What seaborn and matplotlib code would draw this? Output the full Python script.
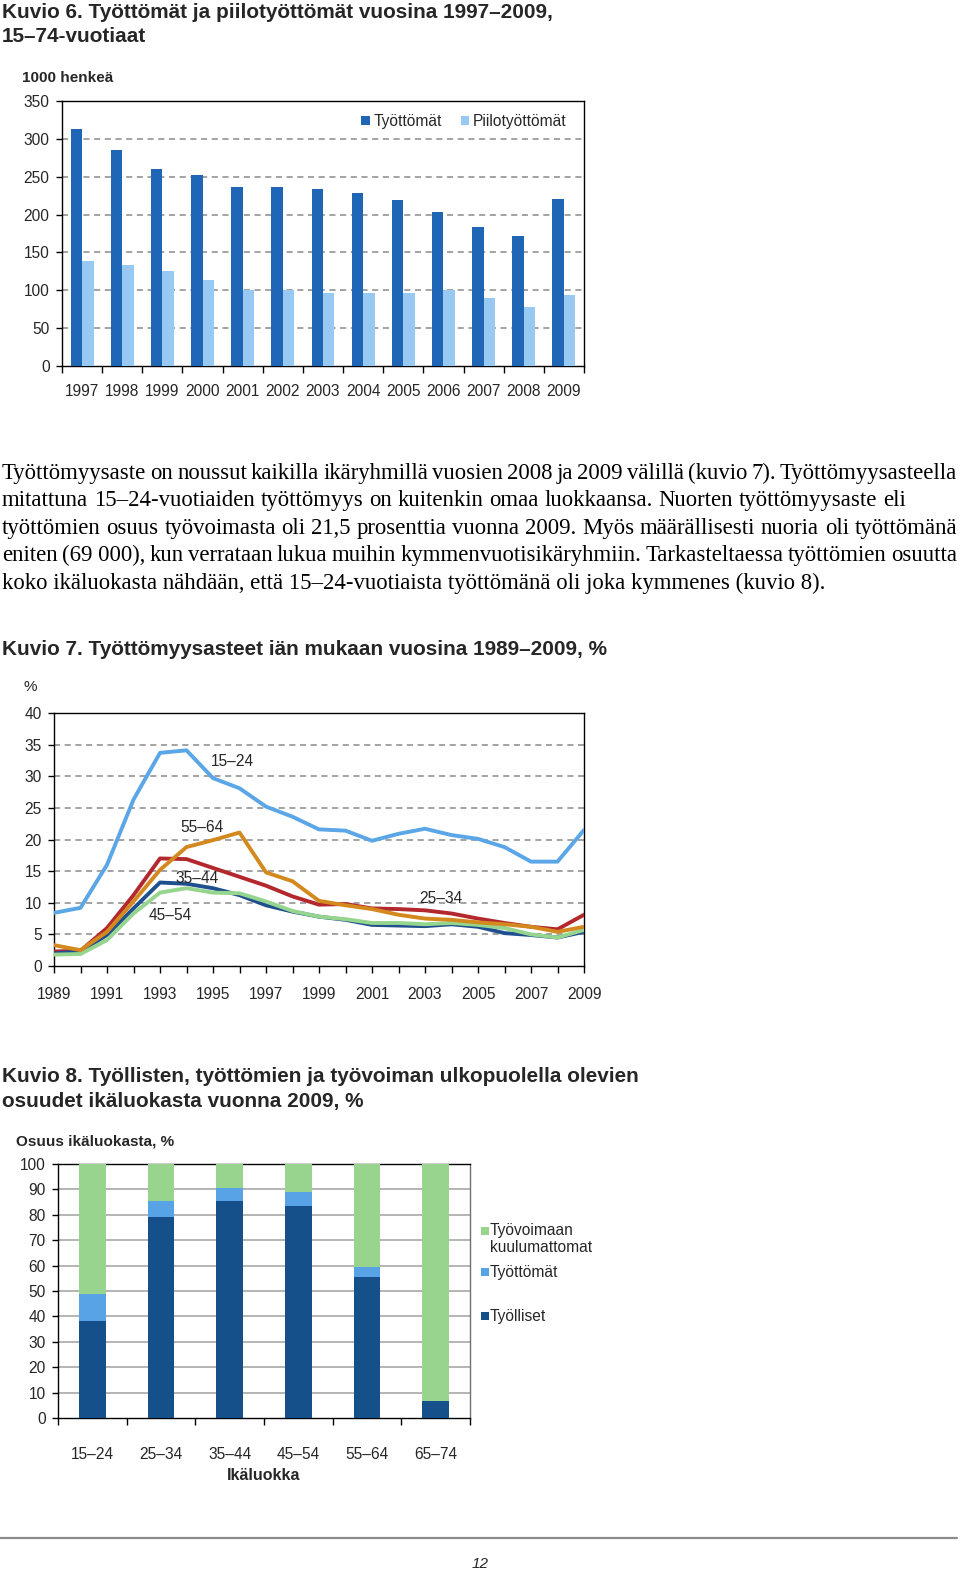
import numpy as np
import pandas as pd
import matplotlib
matplotlib.use("Agg")
import matplotlib.pyplot as plt
import seaborn as sns
from matplotlib.patches import Rectangle
from matplotlib.lines import Line2D

# ---------------- data ----------------
vuodet6 = [1997, 1998, 1999, 2000, 2001, 2002, 2003, 2004, 2005, 2006, 2007, 2008, 2009]
tyottomat6 = [313, 285, 260, 252, 237, 237, 234, 229, 219, 204, 183, 172, 221]
piilotyottomat6 = [139, 134, 126, 113, 101, 101, 96, 97, 97, 100, 90, 78, 94]
sarjat6 = ["Työttömät", "Piilotyöttömät"]

vuodet7 = list(range(1989, 2010))
aste_15_24 = [8.4, 9.2, 16.0, 26.3, 33.7, 34.1, 29.7, 28.1, 25.2, 23.6, 21.6, 21.4, 19.8, 20.9, 21.7, 20.7, 20.1, 18.8, 16.5, 16.5, 21.5]
aste_25_34 = [2.3, 2.4, 6.0, 11.2, 17.0, 16.9, 15.5, 14.1, 12.7, 11.0, 9.7, 9.8, 9.1, 9.0, 8.8, 8.3, 7.5, 6.8, 6.2, 5.8, 8.1]
aste_35_44 = [2.0, 2.3, 4.9, 9.1, 13.2, 13.0, 12.3, 11.2, 9.6, 8.6, 7.8, 7.3, 6.5, 6.4, 6.3, 6.6, 6.2, 5.2, 4.9, 4.5, 5.4]
aste_45_54 = [1.8, 1.9, 4.1, 8.3, 11.6, 12.3, 11.6, 11.5, 10.2, 8.7, 7.8, 7.4, 6.8, 6.8, 6.6, 6.8, 6.5, 6.0, 5.0, 4.5, 5.7]
aste_55_64 = [3.3, 2.5, 5.4, 10.2, 15.2, 18.8, 19.9, 21.1, 14.8, 13.4, 10.3, 9.6, 9.0, 8.1, 7.5, 7.3, 6.9, 6.6, 6.2, 5.4, 6.2]
ikaryhmat7 = ["15–24", "25–34", "35–44", "45–54", "55–64"]

ikaluokat8 = ["15–24", "25–34", "35–44", "45–54", "55–64", "65–74"]
tyolliset8 = [38.0, 79.0, 85.5, 83.5, 55.5, 6.5]
tyottomat8 = [11.0, 6.5, 5.0, 5.5, 4.0, 0.0]
ulkopuoliset8 = [51.0, 14.5, 9.5, 11.0, 40.5, 93.5]
sarjat8 = ["Työvoimaan\nkuulumattomat", "Työttömät", "Työlliset"]

kappale = [
    "Työttömyysaste on noussut kaikilla ikäryhmillä vuosien 2008 ja 2009 välillä (kuvio 7). Työttömyysasteella",
    "mitattuna 15–24-vuotiaiden työttömyys on kuitenkin omaa luokkaansa. Nuorten työttömyysaste eli",
    "työttömien osuus työvoimasta oli 21,5 prosenttia vuonna 2009. Myös määrällisesti nuoria oli työttömänä",
    "eniten (69\u00a0000), kun verrataan lukua muihin kymmenvuotisikäryhmiin. Tarkasteltaessa työttömien osuutta",
    "koko ikäluokasta nähdään, että 15–24-vuotiaista työttömänä oli joka kymmenes (kuvio 8).",
]

# ---------------- style ----------------
sns.set_theme(style="white")
plt.rcParams["font.family"] = ["Liberation Sans", "DejaVu Sans"]
plt.rcParams["axes.linewidth"] = 1.0
plt.rcParams["axes.edgecolor"] = "black"

W, H = 960, 1572
fig = plt.figure(figsize=(W / 100, H / 100), dpi=100)
fig.patch.set_facecolor("white")
renderer = fig.canvas.get_renderer()


def rect(x0, y0, x1, y1):
    return [x0 / W, 1 - y1 / H, (x1 - x0) / W, (y1 - y0) / H]


def ftext(x, y, s, **kw):
    return fig.text(x / W, 1 - y / H, s, **kw)


def twidth(s, **kw):
    t = fig.text(0, 0, s, **kw)
    w = t.get_window_extent(renderer).width
    t.remove()
    return w


def fit_size(s, width, **kw):
    return 10 * width / twidth(s, fontsize=10, **kw)


GRID = "#8a8a8a"
DASH = (0, (4, 3))
TICKFS = 11.2

# ---------------- titles ----------------
tkw = dict(fontweight="bold", family=["Liberation Sans", "DejaVu Sans"])
tsize = fit_size("Kuvio 6. Työttömät ja piilotyöttömät vuosina 1997–2009,", 551, **tkw)
ftext(2, 18, "Kuvio 6. Työttömät ja piilotyöttömät vuosina 1997–2009,", fontsize=tsize, va="baseline", **tkw)
ftext(2, 42, "15–74-vuotiaat", fontsize=tsize, va="baseline", **tkw)
ftext(2, 655, "Kuvio 7. Työttömyysasteet iän mukaan vuosina 1989–2009, %", fontsize=tsize, va="baseline", **tkw)
ftext(2, 1082, "Kuvio 8. Työllisten, työttömien ja työvoiman ulkopuolella olevien", fontsize=tsize, va="baseline", **tkw)
ftext(2, 1107, "osuudet ikäluokasta vuonna 2009, %", fontsize=tsize, va="baseline", **tkw)

# ---------------- paragraph (justified) ----------------
pkw = dict(family=["Liberation Serif", "DejaVu Serif"], color="black")
psize = fit_size(kappale[-1], 824, **pkw)
baselines = [479, 506, 534, 561, 589]
line_ends = [957, 906, 957, 957, None]
for i, line in enumerate(kappale):
    if line_ends[i] is None:
        ftext(2, baselines[i], line, fontsize=psize, va="baseline", ha="left", **pkw)
        continue
    words = line.split(" ")
    widths = [twidth(w, fontsize=psize, **pkw) for w in words]
    gap = (line_ends[i] - 2 - sum(widths)) / (len(words) - 1)
    x = 2
    for w, wd in zip(words, widths):
        ftext(x, baselines[i], w, fontsize=psize, va="baseline", ha="left", **pkw)
        x += wd + gap

# ---------------- chart 1 ----------------
ax1 = fig.add_axes(rect(62, 101, 584, 366))
df1 = pd.DataFrame({
    "Vuosi": vuodet6 + vuodet6,
    "Henkeä": tyottomat6 + piilotyottomat6,
    "Sarja": [sarjat6[0]] * len(vuodet6) + [sarjat6[1]] * len(vuodet6),
})
sns.barplot(data=df1, x="Vuosi", y="Henkeä", hue="Sarja", hue_order=sarjat6,
            palette=["#1f66b6", "#98c9f3"], width=0.57, gap=0, saturation=1,
            linewidth=0, edgecolor="none", ax=ax1, zorder=3)
ax1.set_xlim(-0.5, len(vuodet6) - 0.5)
ax1.set_ylim(0, 350)
ax1.set_yticks(range(0, 351, 50))
for v in range(50, 301, 50):
    ax1.axhline(v, color=GRID, lw=1.1, ls=DASH, zorder=1)
ax1.set_xlabel("")
ax1.set_ylabel("")
ax1.set_xticks(np.arange(-0.5, len(vuodet6), 1), minor=True)
ax1.tick_params(axis="x", which="major", length=0, pad=13, labelsize=TICKFS)
ax1.tick_params(axis="x", which="minor", length=5, width=1, direction="out", bottom=True, color="black")
ax1.tick_params(axis="y", which="major", length=4, width=1, direction="out", left=True, pad=5,
                labelsize=TICKFS, color="black")
for s in ax1.spines.values():
    s.set_color("black")
    s.set_linewidth(1)
h, l = ax1.get_legend_handles_labels()
ax1.legend(h, l, loc="upper right", bbox_to_anchor=(0.985, 0.985), ncol=2, frameon=False,
           handlelength=0.55, handleheight=0.55, handletextpad=0.25, columnspacing=1.2,
           fontsize=TICKFS, borderaxespad=0.2)
ftext(22, 82, "1000 henkeä", fontsize=11, fontweight="bold", va="baseline")

# ---------------- chart 2 ----------------
ax2 = fig.add_axes(rect(54, 713, 584, 966))
df2 = pd.DataFrame({
    "Vuosi": vuodet7 * 5,
    "Prosentti": aste_15_24 + aste_25_34 + aste_35_44 + aste_45_54 + aste_55_64,
    "Ikäryhmä": sum([[g] * len(vuodet7) for g in ikaryhmat7], []),
})
sns.lineplot(data=df2, x="Vuosi", y="Prosentti", hue="Ikäryhmä", hue_order=ikaryhmat7,
             palette=["#5aa6e6", "#b3282d", "#1f4f8f", "#95d58e", "#d4891f"],
             linewidth=2.8, legend=False, ax=ax2, zorder=3)
ax2.set_xlim(1989, 2009)
ax2.set_ylim(0, 40)
ax2.set_yticks(range(0, 41, 5))
for v in range(5, 36, 5):
    ax2.axhline(v, color=GRID, lw=1.1, ls=DASH, zorder=1)
ax2.set_xticks(vuodet7)
ax2.set_xticklabels([str(y) if (y - 1989) % 2 == 0 else "" for y in vuodet7])
ax2.set_xlabel("")
ax2.set_ylabel("")
ax2.tick_params(axis="x", which="major", length=5, width=1, direction="out", bottom=True, pad=10,
                labelsize=TICKFS, color="black")
ax2.tick_params(axis="y", which="major", length=4, width=1, direction="out", left=True, pad=5,
                labelsize=TICKFS, color="black")
for s in ax2.spines.values():
    s.set_color("black")
    s.set_linewidth(1)
lab_kw = dict(fontsize=TICKFS, ha="center", va="center", zorder=5)
ax2.text(1995.75, 32.3, "15–24", **lab_kw)
ax2.text(1994.6, 21.9, "55–64", **lab_kw)
ax2.text(1994.4, 13.9, "35–44", **lab_kw)
ax2.text(1993.4, 8.0, "45–54", **lab_kw)
ax2.text(2003.6, 10.6, "25–34", **lab_kw)
ftext(30, 691, "%", fontsize=11, va="baseline", ha="center")

# ---------------- chart 3 ----------------
ax3 = fig.add_axes(rect(58, 1164, 470, 1418))
df3 = pd.DataFrame({
    "Ikäluokka": ikaluokat8,
    "Työlliset": tyolliset8,
    "Työttömät": tyottomat8,
    "Ulkopuoliset": ulkopuoliset8,
})
df3["kum_tyottomat"] = df3["Työlliset"] + df3["Työttömät"]
df3["kum_kaikki"] = df3["kum_tyottomat"] + df3["Ulkopuoliset"]
cols8 = ["#98d48e", "#58a3e6", "#16508a"]
for col, c in zip(["kum_kaikki", "kum_tyottomat", "Työlliset"], cols8):
    sns.barplot(data=df3, x="Ikäluokka", y=col, color=c, width=0.39, saturation=1,
                linewidth=0, edgecolor="none", ax=ax3, zorder=3)
ax3.set_xlim(-0.5, len(ikaluokat8) - 0.5)
ax3.set_ylim(0, 100)
ax3.set_yticks(range(0, 101, 10))
for v in range(10, 91, 10):
    ax3.axhline(v, color="#a8a8a8", lw=1.2, zorder=1)
ax3.set_xlabel("")
ax3.set_ylabel("")
ax3.set_xticks(np.arange(-0.5, len(ikaluokat8), 1), minor=True)
ax3.tick_params(axis="x", which="major", length=0, pad=21, labelsize=TICKFS)
ax3.tick_params(axis="x", which="minor", length=5, width=1, direction="out", bottom=True, color="black")
ax3.tick_params(axis="y", which="major", length=4, width=1, direction="out", left=True, pad=5,
                labelsize=TICKFS, color="black")
for s in ax3.spines.values():
    s.set_color("black")
    s.set_linewidth(1)
ax3.spines["right"].set_color("#707070")
# legend (squares + labels)
leg_sq_y = [1231, 1272, 1316]
for yy, c in zip(leg_sq_y, cols8):
    fig.add_artist(Rectangle((481 / W, 1 - (yy + 4) / H), 8 / W, 8 / H, facecolor=c, edgecolor="none",
                             transform=fig.transFigure))
ftext(490, 1231, sarjat8[0].split("\n")[0], fontsize=TICKFS, va="center", ha="left")
ftext(490, 1248, sarjat8[0].split("\n")[1], fontsize=TICKFS, va="center", ha="left")
ftext(490, 1272, sarjat8[1], fontsize=TICKFS, va="center", ha="left")
ftext(490, 1316, sarjat8[2], fontsize=TICKFS, va="center", ha="left")
ftext(16, 1146, "Osuus ikäluokasta, %", fontsize=11, fontweight="bold", va="baseline")
ftext(264, 1475, "Ikäluokka", fontsize=11.5, fontweight="bold", va="center", ha="center")

# ---------------- footer ----------------
fig.add_artist(Line2D([0, 957 / W], [1 - 1538 / H, 1 - 1538 / H], color="#8c8c8c", lw=1.6,
                      transform=fig.transFigure))
ftext(480, 1564, "12", fontsize=11, style="italic", ha="center", va="center")

fig.savefig("out.png", dpi=100, facecolor="white")
